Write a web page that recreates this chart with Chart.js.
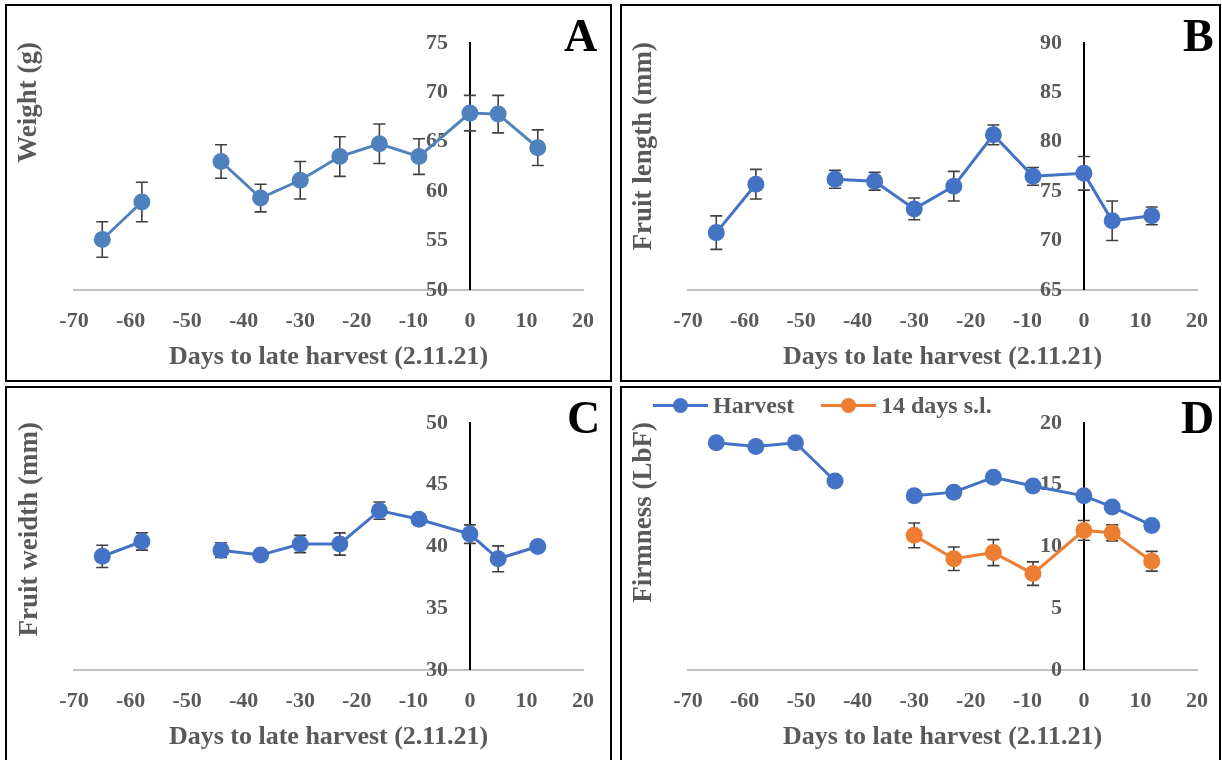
<!DOCTYPE html>
<html>
<head>
<meta charset="utf-8">
<script src="https://cdn.jsdelivr.net/npm/chart.js@4.4.1/dist/chart.umd.min.js"></script>
<style>
  body { margin: 0; background: #fff; width: 1222px; height: 760px; overflow: hidden; position: relative; }
  .panel { position: absolute; border: 2px solid #000; box-sizing: border-box; }
  .box { position: absolute; }
  .ytitle {
    position: absolute; writing-mode: vertical-rl; transform: rotate(180deg);
    font: bold 27px "Liberation Serif", "Times New Roman", serif; color: #595959;
    line-height: 27px; white-space: nowrap;
  }
  .letter { position: absolute; font: bold 46px "Liberation Serif", "Times New Roman", serif; line-height: 1; color: #000; }
  .leg { position: absolute; display: flex; align-items: center; height: 28px;
    font: bold 24px "Liberation Serif", "Times New Roman", serif; color: #595959; }
  .leg .mk { position: relative; width: 55px; height: 3px; margin-right: 5px; }
  .leg .mk i { position: absolute; left: 20px; top: -6px; width: 15px; height: 15px; border-radius: 50%; }
</style>
</head>
<body>
<div class="panel" style="left:5px;top:4px;width:607px;height:378px"></div>
<div class="panel" style="left:620px;top:4px;width:601px;height:378px"></div>
<div class="panel" style="left:5px;top:386px;width:607px;height:380px"></div>
<div class="panel" style="left:620px;top:386px;width:601px;height:380px"></div>

<div class="box" style="left:7px;top:6px;width:603px;height:374px"><canvas id="chartA"></canvas></div>
<div class="box" style="left:622px;top:6px;width:597px;height:374px"><canvas id="chartB"></canvas></div>
<div class="box" style="left:7px;top:388px;width:603px;height:372px"><canvas id="chartC"></canvas></div>
<div class="box" style="left:622px;top:388px;width:597px;height:372px"><canvas id="chartD"></canvas></div>

<div class="ytitle" style="left:14px;top:42px">Weight (g)</div>
<div class="ytitle" style="left:629px;top:42px">Fruit length (mm)</div>
<div class="ytitle" style="left:15px;top:422px">Fruit weidth (mm)</div>
<div class="ytitle" style="left:629px;top:422px">Firmness (LbF)</div>

<div class="letter" style="left:564px;top:13px">A</div>
<div class="letter" style="left:1183px;top:13px">B</div>
<div class="letter" style="left:567px;top:395px">C</div>
<div class="letter" style="left:1181px;top:395px">D</div>

<div class="leg" style="left:653px;top:391px"><span class="mk" style="background:#4472c4"><i style="background:#4472c4"></i></span>Harvest</div>
<div class="leg" style="left:821px;top:391px"><span class="mk" style="background:#ed7d31"><i style="background:#ed7d31"></i></span>14 days s.l.</div>

<script>
// days relative to the late harvest on 2.11.21
const days = [-65, -58, -51, -44, -37, -30, -23, -16, -9, 0, 5, 12];

const weight      = [55.1, 58.9, null, 63.0, 59.3, 61.1, 63.5, 64.8, 63.5, 67.9, 67.8, 64.4];
const weightErr   = [1.8, 2.0, null, 1.7, 1.4, 1.9, 2.0, 2.0, 1.8, 1.8, 1.9, 1.8];

const fruitLength    = [70.8, 75.7, null, 76.2, 76.0, 73.2, 75.5, 80.7, 76.5, 76.8, 72.0, 72.5];
const fruitLengthErr = [1.7, 1.5, null, 0.9, 0.9, 1.1, 1.5, 1.0, 0.9, 1.7, 2.0, 0.9];

const fruitWidth    = [39.2, 40.4, null, 39.7, 39.3, 40.2, 40.2, 42.9, 42.2, 41.0, 39.0, 40.0];
const fruitWidthErr = [0.9, 0.7, null, 0.6, 0.3, 0.7, 0.9, 0.7, 0.4, 0.75, 1.05, 0.3];

const firmHarvest    = [18.4, 18.1, 18.4, 15.3, null, 14.1, 14.4, 15.6, 14.9, 14.1, 13.2, 11.7];
const firmHarvestErr = [0.3, 0.3, 0.3, 0.3, null, 0.3, 0.3, 0.3, 0.3, 0.3, 0.3, 0.3];
const firmStored     = [null, null, null, null, null, 10.9, 9.0, 9.5, 7.8, 11.3, 11.1, 8.8];
const firmStoredErr  = [null, null, null, null, null, 1.0, 0.95, 1.05, 0.95, 0.8, 0.65, 0.8];

const xTicks = { min: -70, max: 20, step: 10 };

Chart.defaults.font.family = '"Liberation Serif", "Times New Roman", serif';
Chart.defaults.color = '#595959';

// vertical error bars, drawn under the markers
const errorBars = {
  id: 'errorBars',
  beforeDatasetsDraw(chart) {
    const { ctx, scales: { x, y } } = chart;
    ctx.save();
    ctx.strokeStyle = '#404040';
    ctx.lineWidth = 1.6;
    chart.data.datasets.forEach(ds => {
      if (!ds.errors) return;
      ds.data.forEach((p, i) => {
        const e = ds.errors[i];
        if (p.y == null || e == null) return;
        const px = x.getPixelForValue(p.x);
        const top = y.getPixelForValue(p.y + e);
        const bot = y.getPixelForValue(p.y - e);
        ctx.beginPath();
        ctx.moveTo(px, top); ctx.lineTo(px, bot);
        ctx.moveTo(px - 6, top); ctx.lineTo(px + 6, top);
        ctx.moveTo(px - 6, bot); ctx.lineTo(px + 6, bot);
        ctx.stroke();
      });
    });
    ctx.restore();
  }
};

function series(values, errors, color) {
  return {
    data: days.map((d, i) => ({ x: d, y: values[i] })),
    errors,
    borderColor: color,
    backgroundColor: color,
    pointBackgroundColor: color,
    pointBorderColor: color,
    borderWidth: 3,
    pointRadius: 8.5,
    pointBorderWidth: 0,
    tension: 0,
    spanGaps: false,
    clip: false
  };
}

function makeChart(id, datasets, yMin, yMax, padding) {
  const tickFont = { size: 22, weight: 'bold' };
  new Chart(document.getElementById(id), {
    type: 'line',
    data: { datasets },
    plugins: [errorBars],
    options: {
      responsive: true,
      maintainAspectRatio: false,
      animation: false,
      layout: { padding },
      plugins: { legend: { display: false }, tooltip: { enabled: false } },
      scales: {
        x: {
          type: 'linear',
          min: xTicks.min,
          max: xTicks.max,
          // tall line height pushes the day labels down without widening the side padding
          ticks: {
            stepSize: xTicks.step, color: '#595959', padding: 10, maxRotation: 0, autoSkip: false,
            font: { size: 22, weight: 'bold', lineHeight: 1.95 }
          },
          grid: { display: false, drawTicks: false },
          border: { color: '#bfbfbf', width: 2 },
          title: {
            display: true,
            text: 'Days to late harvest (2.11.21)',
            color: '#595959',
            font: { size: 26, weight: 'bold' },
            padding: { top: -11, bottom: 7 }
          }
        },
        y: {
          type: 'linear',
          position: { x: 0 },
          min: yMin,
          max: yMax,
          // labels sit right-aligned on the crossing line, so keep a gap after the number
          ticks: { stepSize: 5, font: tickFont, color: '#595959', callback: v => v + '\u2003' },
          grid: { display: false, drawTicks: false },
          border: { color: '#000', width: 2 }
        }
      }
    }
  });
}

makeChart('chartA', [series(weight, weightErr, '#4f81bd')], 50, 75,
  { left: 67, right: 27, top: 37, bottom: 0 });
makeChart('chartB', [series(fruitLength, fruitLengthErr, '#4472c4')], 65, 90,
  { left: 66, right: 22, top: 37, bottom: 0 });
makeChart('chartC', [series(fruitWidth, fruitWidthErr, '#4472c4')], 30, 50,
  { left: 67, right: 27, top: 35, bottom: 0 });
makeChart('chartD', [
  series(firmHarvest, firmHarvestErr, '#4472c4'),
  series(firmStored, firmStoredErr, '#ed7d31')
], 0, 20, { left: 66, right: 22, top: 35, bottom: 0 });
</script>
</body>
</html>
